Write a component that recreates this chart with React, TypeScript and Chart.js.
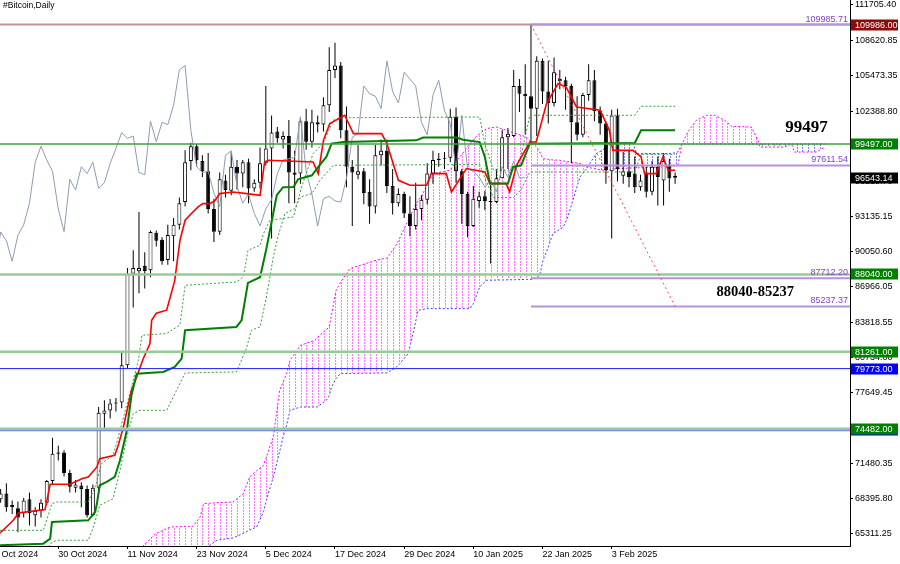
import React, { useEffect, useRef } from 'react';
import { Chart, registerables } from 'chart.js';

Chart.register(...registerables);

// ---- axis ranges (day 0 = 18 Oct 2024) ----
const X_MIN = 1.89;
const X_MAX = 149.34;
const Y_MIN = 64194;
const Y_MAX = 112144;

const xTickDays = [0, 12, 24, 36, 48, 60, 72, 84, 96, 108];
const xTickLabels = ['18 Oct 2024', '30 Oct 2024', '11 Nov 2024', '23 Nov 2024', '5 Dec 2024', '17 Dec 2024', '29 Dec 2024', '10 Jan 2025', '22 Jan 2025', '3 Feb 2025'];
const yTickValues = [111705.4, 108620.85, 105473.35, 102388.8, 99304.25, 96219.7, 93135.15, 90050.6, 86966.05, 83818.55, 80734.0, 77649.45, 74564.9, 71480.35, 68395.8, 65311.25];

// ---- candles: first candle is day 2 (20 Oct 2024) ----
const firstCandleDay = 2;
const opens = [
  68300, 68800, 67800, 67500, 67100, 68300, 66900, 67300, 68000, 69900,
  72300, 72400, 70600, 69300, 69500, 69200, 66900, 69300, 75800, 76100,
  76700, 76800, 80060, 88100, 88320, 88800, 88400, 91700, 91100, 89300,
  91400, 92400, 94400, 98000, 99300, 98000, 97100, 93800, 91800, 96300,
  95400, 97500, 96900, 97900, 95600, 96100, 97800, 99100, 100600, 99900,
  100200, 97000, 96900, 101500, 99700, 101400, 101200, 102900, 106000, 106400,
  100700, 97500, 96800, 97100, 95300, 94000, 98500, 98900, 95800, 94300,
  95100, 93400, 92300, 93800, 94600, 96900, 98100, 98200, 98300, 101900,
  97100, 95100, 92300, 94500, 94900, 94500, 94400, 96500, 100100, 100200,
  104600, 103900, 103700, 102600, 106800, 104100, 103100, 105000, 105100, 104600,
  101400, 100300, 103800, 105100, 102400, 101300, 97100, 102000, 96700, 97100,
  96900, 95700, 97000, 95300, 97500, 96300, 97700, 96700,
];
const highs = [
  69200, 69700, 68200, 68100, 68400, 68900, 67600, 68300, 70000, 73700,
  73000, 72600, 70900, 70000, 69800, 69500, 69600, 76400, 77000, 77100,
  77200, 81230, 88600, 90160, 93530, 90000, 91900, 91900, 91300, 92400,
  93000, 94800, 98950, 99600, 99500, 98500, 98700, 94700, 97000, 96800,
  98800, 98100, 98100, 98200, 96400, 99200, 104600, 102000, 101000, 100600,
  101600, 98900, 101800, 102600, 102500, 102000, 103600, 108000, 108400, 106700,
  102800, 98100, 99400, 97400, 96400, 99400, 99900, 99900, 97300, 95600,
  95300, 94900, 96100, 95000, 97800, 98900, 98700, 98800, 102600, 102700,
  97300, 95300, 95800, 95300, 95400, 95900, 97300, 100700, 100900, 106000,
  105200, 106500, 109986, 107200, 107000, 106800, 107100, 106000, 105400, 104800,
  103700, 104000, 106500, 106000, 102800, 101500, 102500, 102600, 98800, 99000,
  98400, 96800, 97500, 98000, 98400, 98700, 98200, 97000,
];
const lows = [
  68000, 67200, 67000, 65400, 66700, 66000, 65900, 66700, 67800, 69600,
  71700, 70300, 68900, 68900, 67600, 66700, 66800, 69000, 74400, 75400,
  76000, 76300, 79800, 85150, 86390, 86800, 87800, 90500, 88900, 88900,
  89200, 92000, 94000, 97200, 97500, 96600, 93400, 90900, 91500, 94800,
  95000, 95500, 95700, 94300, 95300, 95600, 97600, 91200, 99600, 99100,
  94300, 94300, 96000, 99000, 99200, 100500, 100600, 102300, 105300, 100000,
  95700, 92300, 96400, 94200, 92500, 93400, 97600, 95200, 93300, 94000,
  93000, 91400, 92000, 92800, 94200, 96000, 97500, 97300, 97900, 96100,
  92500, 91300, 92200, 93900, 93700, 89000, 94300, 96500, 97300, 100100,
  102300, 100300, 99500, 100200, 103000, 101300, 102800, 104300, 102500, 97800,
  99800, 100100, 103300, 101500, 100300, 96000, 91200, 96200, 96000, 95700,
  95200, 95400, 94800, 95000, 94100, 94100, 95300, 96000,
];
const closes = [
  68800, 67600, 67600, 66700, 68200, 67100, 67300, 68000, 69900, 72300,
  72400, 70600, 69400, 69600, 69200, 66900, 69300, 75900, 76100, 76700,
  76800, 80060, 88100, 88600, 88600, 88350, 91770, 91000, 89200, 91500,
  92400, 94300, 97900, 99300, 98100, 97100, 93800, 91800, 96400, 95450,
  97500, 96900, 97900, 95600, 96100, 97800, 99100, 100500, 100000, 100200,
  97000, 96800, 101500, 99700, 101400, 101200, 102900, 106000, 106400, 100700,
  97500, 97000, 97100, 95200, 94000, 98500, 98900, 95800, 94300, 95100,
  93400, 92300, 93800, 94600, 96900, 98100, 98200, 98300, 101900, 97100,
  95100, 92300, 94700, 94900, 94500, 94400, 96500, 100100, 100400, 104600,
  103900, 103700, 102600, 106800, 104100, 103100, 105800, 105200, 104600, 101400,
  100300, 103800, 105100, 102400, 101300, 97200, 102000, 97300, 97100, 96600,
  95700, 96300, 95300, 97500, 96600, 98000, 96500, 96543.14,
];
const chikouShift = 26;

// ---- Ichimoku lines: [day, price] ----
const tenkan = [
  [1.9, 65340], [4.2, 66450], [5.1, 67090], [9.7, 67390], [10.6, 69620], [14, 69620], [16.3, 70140], [17.2, 70260],
  [18.7, 71140], [19.2, 71870], [21.8, 72160], [22.4, 73040], [23.3, 74650], [24.7, 77870], [25.6, 79040], [26.7, 80600],
  [27.9, 81970], [28.2, 84020], [29, 84630], [30.8, 84900], [32.2, 87500], [33.1, 91000], [34, 92800], [35.1, 93400],
  [36.3, 94000], [37.1, 94260], [38.3, 94260], [39.2, 94550], [40, 95140], [42.3, 95280], [44.7, 95140], [47, 94990],
  [47.8, 97920], [48.4, 98070], [56.2, 97920], [57.1, 96900], [58, 99820], [59.1, 101290], [61.7, 102020], [63.2, 100410],
  [68.1, 100410], [69, 99530], [71, 96310], [73, 95870], [75.9, 95870], [76.7, 96900], [79.3, 96900], [80.2, 95280],
  [82.8, 97340], [86, 97040], [86.9, 96020], [89.7, 96020], [90.3, 95280], [91.5, 97630], [93.8, 99670], [94.9, 99670],
  [96.7, 103040], [98.7, 104800], [100.1, 104500], [101.9, 102750], [106, 102460], [107.6, 100700], [108.2, 98940],
  [111.7, 98940], [113.1, 98360], [113.7, 96900], [115.7, 96900], [116.9, 98360], [117.8, 97190], [119, 97190],
];
const kijun = [
  [1.9, 64260], [9.4, 64400], [10.6, 64840], [10.9, 66300], [17.2, 66450], [18.4, 67180], [18.7, 67920], [19.2, 69530],
  [20.4, 69820], [21.8, 70260], [22.7, 71720], [23.9, 74360], [24.7, 77430], [25.6, 79330], [30.2, 79480], [32.2, 79920],
  [33.4, 80650], [34, 83140], [42.9, 83430], [43.8, 84020], [44.9, 87300], [47, 87800], [48.1, 90300], [49.9, 95000],
  [51, 95700], [52.8, 95720], [53.6, 96400], [56, 96750], [57.1, 97480], [58.5, 98360], [59.4, 99530], [61.4, 99670],
  [74.1, 99820], [75.3, 100060], [81.1, 100060], [82.2, 99880], [85.1, 99670], [86, 98360], [86.9, 96020], [90, 96020],
  [90.9, 97480], [92.3, 97630], [93.8, 99530], [112, 99590], [113.1, 100700], [119, 100700],
];
const bandUpper = [
  [1.9, 65570], [9.4, 65570], [10.9, 67920], [11.7, 68060], [17.2, 68060], [18.5, 69500], [19.5, 71430], [21.5, 72160],
  [22, 73000], [24.1, 76990], [25.9, 80500], [26.5, 82700], [30.8, 82850], [33.1, 83600], [34, 87090], [42.9, 87380],
  [44.1, 87820], [44.9, 90160], [47, 90600], [47.6, 91630], [48.7, 92800], [52.8, 93090], [54.2, 95720], [56.2, 98650],
  [57.9, 99530], [59.7, 101580], [60.8, 101800], [85.1, 101870], [86, 99500], [87.5, 97200], [91, 97200], [92.3, 98500],
  [93.8, 102020], [112, 102020], [113.1, 102810], [119, 102810],
];
const bandLower = [
  [1.9, 63000], [9.4, 63100], [10.6, 64400], [11.7, 64700], [17.2, 64700], [18.1, 65860], [19.2, 67770], [21.5, 68350],
  [22.7, 70840], [23.9, 73770], [25, 75820], [26.2, 76110], [30.8, 76110], [34, 79390], [42.9, 79480], [44.6, 81500],
  [45.5, 83140], [47, 83430], [48.1, 86060], [49.3, 89580], [50.1, 91330], [51.3, 93380], [53, 93820], [54, 94840],
  [56, 95140], [57.4, 96310], [59.7, 97630], [85.1, 97700], [86, 96500], [87.5, 94800], [91, 94800], [92.3, 95500],
  [93.8, 97040], [112, 97040], [113.1, 98600], [119, 98600],
];

// ---- cloud (Senkou span A / B), shared day grid ----
const cloudDays = [25, 26.7, 28.9, 31.4, 35.4, 36.6, 37.2, 38.3, 39.5, 42.3, 44.1, 45.2, 46.4, 47.6, 48.1, 49.3, 50.4, 51.0, 51.6, 52.2, 54.0, 56.5, 56.9, 58.5, 59.0, 59.4, 60.2, 60.9, 62.6, 67.2, 69.0, 69.2, 70.7, 71.2, 72.4, 72.7, 73.8, 74.4, 75.1, 75.9, 77.0, 79.9, 83.4, 84.0, 85.1, 86.3, 88.0, 93.2, 94.4, 95.0, 95.5, 96.1, 97.0, 97.8, 99.0, 99.6, 100.4, 102.5, 103.6, 105.3, 106.5, 108.2, 111.7, 112.3, 118.4, 119.5, 120.2, 121.4, 122.7, 124.4, 125.9, 127.6, 128.8, 132.2, 133.4, 133.7, 138.0, 139.2, 139.7, 143.5, 145.0];
const spanA = [63000, 64200, 65280, 65860, 65930, 66740, 67920, 67950, 68000, 68060, 68790, 70260, 70800, 71280, 72010, 73770, 77870, 78600, 79330, 80500, 81820, 82260, 82500, 83200, 83430, 84500, 86650, 87300, 88560, 89290, 89500, 89580, 90700, 91190, 92500, 92800, 94000, 94500, 95000, 95800, 96900, 97190, 99500, 99900, 100410, 100850, 100990, 100110, 99500, 99230, 98800, 98210, 98150, 98100, 98070, 98000, 97950, 97780, 97480, 97300, 97190, 97300, 97400, 97400, 97500, 97700, 99520, 100700, 101580, 102020, 102020, 101580, 101050, 100990, 99820, 99230, 99230, 99500, 98790, 98790, 99230];
const spanB = [60000, 60500, 61000, 61500, 62500, 63000, 63600, 64260, 64700, 64900, 65300, 65600, 65860, 67200, 68210, 70260, 72500, 73770, 74800, 76110, 76400, 76400, 76400, 76990, 77400, 78160, 78900, 79330, 79350, 79380, 79390, 79450, 79920, 80200, 80900, 81090, 83430, 84890, 84950, 85040, 85040, 85040, 85040, 85480, 86940, 87530, 87550, 87600, 87620, 87800, 87970, 89300, 90450, 91630, 92000, 92210, 93090, 96600, 97300, 98650, 99000, 99590, 99590, 98650, 98650, 98800, 99497, 99497, 99497, 99497, 99497, 99497, 99497, 99497, 99497, 99497, 99497, 99497, 99497, 99497, 99497];

// ---- levels ----
const roseLevels = [109986];
const purpleLevels = [109985.71, 97611.54, 87712.2, 85237.37];
const purpleStartDay = 94;
const greenLevels = [99497, 88040, 81261, 74482];
const blueLevels = [79773, 74350];
const trendStart = [94, 109986];
const trendEnd = [119, 85237.37];
const currentPrice = 96543.14;
const noteTexts = ['99497', '88040-85237'];
const titleText = '#Bitcoin,Daily';

export default function App() {
  const ref = useRef<HTMLCanvasElement>(null);

  useEffect(() => {
    document.body.style.margin = '0';
    const canvas = ref.current as HTMLCanvasElement;
    const plotW = 850;
    const pxPerDay = plotW / (X_MAX - X_MIN);
    const hatchOffset = Math.round((0 - X_MIN) * pxPerDay);

    const mkHatch = (color: string) => {
      const tile = document.createElement('canvas');
      tile.width = 75;
      tile.height = 3;
      const g = tile.getContext('2d') as CanvasRenderingContext2D;
      g.fillStyle = color;
      for (let i = 0; i < 13; i++) g.fillRect(Math.round((i * 75) / 13), 0, 1, 2);
      const p = g.createPattern(tile, 'repeat') as CanvasPattern;
      p.setTransform(new DOMMatrix([1, 0, 0, 1, hatchOffset, 0]));
      return p;
    };
    const hatchUp = mkHatch('#ff78ff');
    const hatchDown = mkHatch('#8080ff');
    const none = 'rgba(0,0,0,0)';

    const toPts = (arr: number[][]) => arr.map(([x, y]) => ({ x, y }));
    const line = (data: any[], color: string, width: number, dash: number[], order: number, extra: any = {}) => ({
      type: 'line',
      data,
      borderColor: color,
      borderWidth: width,
      borderDash: dash,
      pointRadius: 0,
      tension: 0,
      fill: false,
      order,
      clip: 0,
      ...extra,
    });

    const candleX = opens.map((_, i) => firstCandleDay + i);
    const wicks = candleX.map((x, i) => ({ x, y: [lows[i], highs[i]] }));
    const bodies = candleX.map((x, i) => ({ x, y: [opens[i], closes[i]] }));
    const chikou = candleX.map((x, i) => ({ x: x - chikouShift, y: closes[i] }));

    const datasets: any[] = [];
    // cloud: span B (index 0) and span A (index 1); each fills only where it is on top
    datasets.push(line(cloudDays.map((d, i) => ({ x: d, y: spanB[i] })), '#3c3cff', 1, [2, 2], 30, {
      fill: { target: 1, above: hatchDown, below: none },
    }));
    datasets.push(line(cloudDays.map((d, i) => ({ x: d, y: spanA[i] })), '#ff00ff', 1, [2, 2], 29, {
      fill: { target: 0, above: hatchUp, below: none },
    }));
    // candles
    datasets.push({
      type: 'bar', data: wicks, backgroundColor: '#000000', borderWidth: 0, barThickness: 1,
      grouped: false, order: 21, inflateAmount: 0, clip: 0,
    });
    datasets.push({
      type: 'bar', data: bodies,
      backgroundColor: (c: any) => (closes[c.dataIndex] >= opens[c.dataIndex] ? '#ffffff' : '#000000'),
      borderColor: '#000000', borderWidth: 1, borderSkipped: false, barThickness: 4,
      minBarLength: 1, grouped: false, order: 20, inflateAmount: 0, clip: 0,
    });
    // chikou, bands, tenkan, kijun
    datasets.push(line(chikou, '#8d9cb2', 1, [], 15));
    datasets.push(line(toPts(bandUpper), '#3a9a3a', 1, [2, 2], 14));
    datasets.push(line(toPts(bandLower), '#3a9a3a', 1, [2, 2], 14));
    datasets.push(line(toPts(tenkan), '#ff0000', 1.6, [], 12));
    datasets.push(line(toPts(kijun), '#008000', 2, [], 11));
    // levels
    roseLevels.forEach((v) => datasets.push(line([{ x: X_MIN, y: v }, { x: X_MAX, y: v }], '#c49494', 2, [], 8)));
    greenLevels.forEach((v, i) => datasets.push(line([{ x: X_MIN, y: v }, { x: X_MAX, y: v }], i === 0 ? '#3f9f3f' : '#94cc94', i === 0 ? 1.5 : 2.5, [], 8)));
    blueLevels.forEach((v, i) => datasets.push(line([{ x: X_MIN, y: v }, { x: X_MAX, y: v }], i === 0 ? '#1c1cff' : '#8080f0', i === 0 ? 1 : 2, [], 8)));
    purpleLevels.forEach((v) => datasets.push(line([{ x: purpleStartDay, y: v }, { x: X_MAX, y: v }], '#b592da', 2, [], 7)));
    datasets.push(line([{ x: trendStart[0], y: trendStart[1] }, { x: trendEnd[0], y: trendEnd[1] }], '#ff4a4a', 1, [2, 3], 6));

    const font = { family: '"Liberation Sans", Arial, sans-serif', size: 9 };

    const overlay = {
      id: 'overlay',
      afterDraw(chart: any) {
        const { ctx, chartArea } = chart;
        const x = chart.scales.x;
        const y = chart.scales.y;
        ctx.save();
        // title
        ctx.font = '8.5px "Liberation Sans", Arial, sans-serif';
        ctx.fillStyle = '#000';
        ctx.textAlign = 'left';
        ctx.textBaseline = 'middle';
        ctx.fillText(titleText, 3, 6);
        // purple level captions
        ctx.font = '9px "Liberation Sans", Arial, sans-serif';
        ctx.fillStyle = '#7d45c6';
        ctx.textAlign = 'right';
        ctx.textBaseline = 'bottom';
        purpleLevels.forEach((v) => ctx.fillText(v.toFixed(2), chartArea.right - 2, y.getPixelForValue(v) - 1));
        // notes
        ctx.fillStyle = '#000';
        ctx.textAlign = 'left';
        ctx.textBaseline = 'middle';
        ctx.font = 'bold 17px "Liberation Serif", "Times New Roman", serif';
        ctx.fillText(noteTexts[0], x.getPixelForValue(138.1), y.getPixelForValue(100950));
        ctx.font = 'bold 14.5px "Liberation Serif", "Times New Roman", serif';
        ctx.fillText(noteTexts[1], x.getPixelForValue(126.2), y.getPixelForValue(86500));
        // price boxes on axis
        const box = (v: number, bg: string, text: string) => {
          const cy = Math.round(y.getPixelForValue(v));
          ctx.fillStyle = bg;
          ctx.fillRect(chartArea.right + 1, cy - 5.5, 47, 11);
          if (text) {
            ctx.fillStyle = '#fff';
            ctx.font = '9px "Liberation Sans", Arial, sans-serif';
            ctx.textAlign = 'left';
            ctx.textBaseline = 'middle';
            ctx.fillText(text, chartArea.right + 5, cy + 0.5);
          }
        };
        box(roseLevels[0], '#8b0a0a', roseLevels[0].toFixed(2));
        box(greenLevels[0], '#008000', greenLevels[0].toFixed(2));
        box(currentPrice, '#000000', currentPrice.toFixed(2));
        box(greenLevels[1], '#008000', greenLevels[1].toFixed(2));
        box(greenLevels[2], '#008000', greenLevels[2].toFixed(2));
        box(blueLevels[0], '#0000ff', blueLevels[0].toFixed(2));
        box(blueLevels[1], '#0000ff', '');
        box(greenLevels[3], '#008000', greenLevels[3].toFixed(2));
        ctx.restore();
      },
    };

    const chart = new Chart(canvas, {
      type: 'line',
      data: { datasets },
      options: {
        responsive: false,
        animation: false,
        devicePixelRatio: 1,
        events: [],
        layout: { padding: 0, autoPadding: false },
        plugins: { legend: { display: false }, tooltip: { enabled: false } },
        scales: {
          x: {
            type: 'linear',
            min: X_MIN,
            max: X_MAX,
            offset: false,
            afterBuildTicks: (s: any) => { s.ticks = xTickDays.map((v) => ({ value: v })); },
            afterFit: (s: any) => { s.height = 18; s.paddingLeft = 0; s.paddingRight = 0; },
            ticks: {
              autoSkip: false, maxRotation: 0, minRotation: 0, align: 'start', padding: 0,
              color: '#000', font,
              callback: (v: any) => { const k = xTickDays.indexOf(Number(v)); return k >= 0 ? xTickLabels[k] : ''; },
            },
            grid: { display: true, drawOnChartArea: false, drawTicks: true, tickLength: 3, color: '#000', offset: false },
            border: { display: true, color: '#000', width: 1 },
          },
          y: {
            type: 'linear',
            position: 'right',
            min: Y_MIN,
            max: Y_MAX,
            afterBuildTicks: (s: any) => { s.ticks = yTickValues.map((v) => ({ value: v })); },
            afterFit: (s: any) => { s.width = 50; s.paddingTop = 0; s.paddingBottom = 0; },
            ticks: { padding: 2, color: '#000', font, callback: (v: any) => Number(v).toFixed(2) },
            grid: { display: true, drawOnChartArea: false, drawTicks: true, tickLength: 3, color: '#000' },
            border: { display: true, color: '#000', width: 1 },
          },
        },
      } as any,
      plugins: [overlay],
    } as any);

    return () => chart.destroy();
  }, []);

  return <canvas ref={ref} width={900} height={564} style={{ display: 'block' }} />;
}
